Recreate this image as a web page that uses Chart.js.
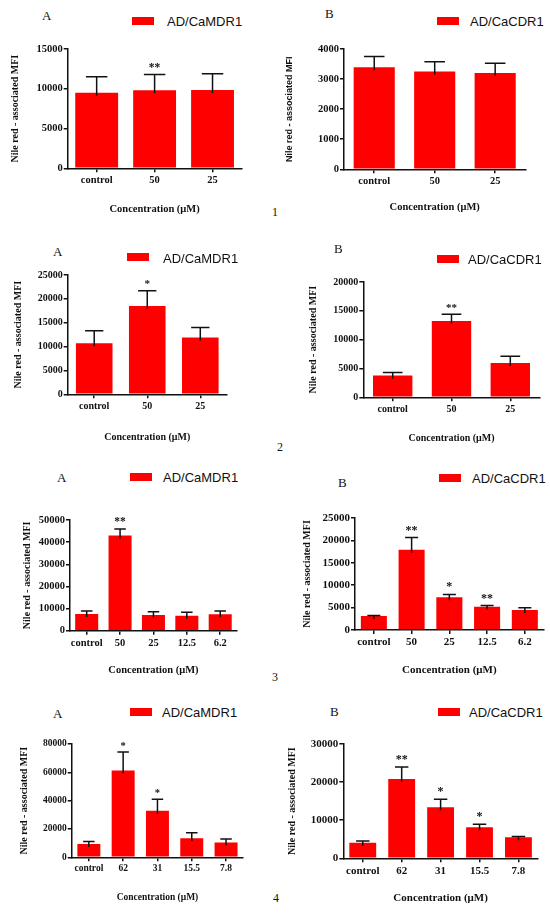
<!DOCTYPE html>
<html>
<head>
<meta charset="utf-8">
<script src="https://cdn.jsdelivr.net/npm/chart.js@4.4.1/dist/chart.umd.min.js"></script>
<style>
  body { margin: 0; background: #fff; width: 550px; height: 921px; position: relative; overflow: hidden; }
  canvas { position: absolute; }
  .let { position: absolute; font-family: "Liberation Serif", serif; font-size: 13px; color: #111; line-height: 1; transform: translateY(-50%); }
  .num { position: absolute; font-family: "Liberation Serif", serif; font-size: 12px; color: #111; line-height: 1; transform: translate(-50%, -50%); }
  .leg { position: absolute; font-family: "Liberation Sans", sans-serif; font-size: 13px; color: #111; line-height: 1; transform: translateY(-50%); white-space: nowrap; }
  .box { position: absolute; background: #ff0000; }
</style>
</head>
<body>
<script>
// categories (concentration, µM)
const conc1 = ["control", "50", "25"];
const conc3 = ["control", "50", "25", "12.5", "6.2"];
const conc4 = ["control", "62", "31", "15.5", "7.8"];

// 1
const mdr1Mean = [9500, 9800, 9850];
const mdr1Sd = [2000, 2000, 2050];
const mdr1Stars = ["", "**", ""];
const cdr1Mean = [3390, 3250, 3200];
const cdr1Sd = [360, 330, 330];
const cdr1Stars = ["", "", ""];

// 2
const mdr2Mean = [10700, 18500, 11900];
const mdr2Sd = [2600, 3200, 2100];
const mdr2Stars = ["", "*", ""];
const cdr2Mean = [3800, 13250, 5950];
const cdr2Sd = [500, 1150, 1150];
const cdr2Stars = ["", "**", ""];

// 3
const mdr3Mean = [7500, 43000, 7100, 6800, 7400];
const mdr3Sd = [1400, 2900, 1500, 1500, 1500];
const mdr3Stars = ["", "**", "", "", ""];
const cdr3Mean = [3100, 17900, 7300, 5200, 4450];
const cdr3Sd = [150, 2750, 650, 250, 500];
const cdr3Stars = ["", "**", "*", "**", ""];

// 4
const mdr4Mean = [9400, 61300, 32800, 13400, 10400];
const mdr4Sd = [1700, 13000, 8200, 4000, 2600];
const mdr4Stars = ["", "*", "*", "", ""];
const cdr4Mean = [4100, 20800, 13400, 8150, 5500];
const cdr4Sd = [450, 3150, 2100, 800, 200];
const cdr4Stars = ["", "**", "*", "*", ""];

const panels = [
  { cats: conc1, mean: mdr1Mean, sd: mdr1Sd, stars: mdr1Stars, name: "AD/CaMDR1", letter: "A",
    max: 15000, step: 5000, ax: 67.7, top: 49.3, right: 241.5, zero: 168.3, titleX: 15, xTitleY: 209, pct: 0.74, fs: 10.5,
    let: [42, 15], box: [132, 17], legX: 167, legY: 21 },
  { cats: conc1, mean: cdr1Mean, sd: cdr1Sd, stars: cdr1Stars, name: "AD/CaCDR1", letter: "B",
    max: 4000, step: 1000, ax: 344, top: 49.3, right: 525.4, zero: 169.3, titleX: 290, xTitleY: 207, pct: 0.68, fs: 10.5, ySans: true,
    let: [325, 13], box: [437, 17], legX: 470, legY: 21 },
  { cats: conc1, mean: mdr2Mean, sd: mdr2Sd, stars: mdr2Stars, name: "AD/CaMDR1", letter: "A",
    max: 25000, step: 5000, ax: 67.7, top: 275, right: 226.8, zero: 394.3, titleX: 18, xTitleY: 436, pct: 0.69, fs: 10,
    let: [53, 251], box: [127, 253], legX: 163, legY: 258 },
  { cats: conc1, mean: cdr2Mean, sd: cdr2Sd, stars: cdr2Stars, name: "AD/CaCDR1", letter: "B",
    max: 20000, step: 5000, ax: 363.3, top: 282.3, right: 539.7, zero: 397.3, titleX: 313, xTitleY: 437, pct: 0.67, fs: 10,
    let: [334, 248], box: [437, 255], legX: 468, legY: 259 },
  { cats: conc3, mean: mdr3Mean, sd: mdr3Sd, stars: mdr3Stars, name: "AD/CaMDR1", letter: "A",
    max: 50000, step: 10000, ax: 70, top: 520, right: 236.9, zero: 630.7, titleX: 27, xTitleY: 670, pct: 0.69, fs: 10.5,
    let: [57, 477], box: [130, 473], legX: 163, legY: 477 },
  { cats: conc3, mean: cdr3Mean, sd: cdr3Sd, stars: cdr3Stars, name: "AD/CaCDR1", letter: "B",
    max: 25000, step: 5000, ax: 355, top: 518.3, right: 543.7, zero: 630, titleX: 307, xTitleY: 670, pct: 0.69, fs: 11,
    let: [338, 482], box: [439, 474], legX: 472, legY: 478 },
  { cats: conc4, mean: mdr4Mean, sd: mdr4Sd, stars: mdr4Stars, name: "AD/CaMDR1", letter: "A",
    max: 80000, step: 20000, ax: 71.7, top: 744.3, right: 243.2, zero: 857.3, titleX: 24, xTitleY: 896, pct: 0.67, fs: 9.5,
    let: [53, 713], box: [130, 708], legX: 162, legY: 712 },
  { cats: conc4, mean: cdr4Mean, sd: cdr4Sd, stars: cdr4Stars, name: "AD/CaCDR1", letter: "B",
    max: 30000, step: 10000, ax: 343.3, top: 744.3, right: 537.9, zero: 858.3, titleX: 292, xTitleY: 898, pct: 0.69, fs: 11,
    let: [330, 711], box: [438, 708], legX: 469, legY: 712 }
];

const figNums = [["1", 275, 212], ["2", 280, 447], ["3", 275, 677], ["4", 276, 898]];

const serif = '"Liberation Serif", serif';

// error bars (upper only) and significance marks
const errorBars = {
  id: 'errorBars',
  afterDatasetsDraw(chart, args, opts) {
    const ctx = chart.ctx;
    const y = chart.scales.y;
    const meta = chart.getDatasetMeta(0);
    ctx.save();
    ctx.strokeStyle = '#111';
    ctx.lineWidth = 1.5;
    meta.data.forEach((bar, i) => {
      const yTop = y.getPixelForValue(opts.mean[i] + opts.sd[i]);
      const half = bar.width / 4;
      ctx.beginPath();
      ctx.moveTo(bar.x, bar.y + 3);
      ctx.lineTo(bar.x, yTop);
      ctx.moveTo(bar.x - half, yTop);
      ctx.lineTo(bar.x + half, yTop);
      ctx.stroke();
      if (opts.stars[i]) {
        ctx.fillStyle = '#111';
        ctx.font = 'bold ' + (opts.fs + 1) + 'px ' + serif;
        ctx.textAlign = 'center';
        ctx.textBaseline = 'bottom';
        ctx.fillText(opts.stars[i], bar.x, yTop - 1);
      }
    });
    ctx.restore();
  }
};

const padT = 14, padR = 6;

panels.forEach(p => {
  const lh = 12;
  const yW = p.ax - p.titleX + lh / 2;
  const xH = p.xTitleY - p.zero + 7;
  const left = p.ax - yW;
  const w = Math.round(p.right + padR - left);
  const h = Math.round(p.zero - p.top + padT + xH);

  const cv = document.createElement('canvas');
  cv.width = w; cv.height = h;
  cv.style.left = left + 'px';
  cv.style.top = (p.top - padT) + 'px';
  cv.style.width = w + 'px';
  cv.style.height = h + 'px';
  document.body.appendChild(cv);

  new Chart(cv, {
    type: 'bar',
    data: {
      labels: p.cats,
      datasets: [{
        data: p.mean,
        backgroundColor: '#ff0000',
        borderWidth: 0,
        categoryPercentage: 1,
        barPercentage: p.pct
      }]
    },
    options: {
      responsive: false,
      animation: false,
      layout: { padding: { top: padT, right: w - (p.right - left), left: 0, bottom: 0 } },
      plugins: {
        legend: { display: false },
        tooltip: { enabled: false },
        errorBars: { mean: p.mean, sd: p.sd, stars: p.stars, fs: p.fs }
      },
      scales: {
        x: {
          grid: { display: true, drawOnChartArea: false, drawTicks: true, tickLength: 4, color: '#111', lineWidth: 1.5, offset: false },
          border: { display: true, color: '#111', width: 1.5 },
          ticks: { color: '#111', font: { family: serif, size: p.fs, weight: 'bold' }, padding: 2, maxRotation: 0, autoSkip: false },
          title: { display: true, text: 'Concentration (μM)', color: '#111', font: { family: serif, size: p.fs, weight: 'bold' }, padding: 0, align: 'center' },
          afterFit: s => { s.height = xH; }
        },
        y: {
          min: 0, max: p.max,
          grid: { display: true, drawOnChartArea: false, drawTicks: true, tickLength: 4, color: '#111', lineWidth: 1.5 },
          border: { display: true, color: '#111', width: 1.5 },
          ticks: { stepSize: p.step, color: '#111', font: { family: serif, size: p.fs, weight: 'bold' }, padding: 1,
                   callback: v => String(v) },
          title: { display: true, text: 'Nile red - associated MFI', color: '#111',
                   font: { family: p.ySans ? '"Liberation Sans", sans-serif' : serif, size: p.ySans ? 9 : 10, weight: 'bold', lineHeight: 1.2 }, padding: 0 },
          afterFit: s => { s.width = yW; }
        }
      }
    },
    plugins: [errorBars]
  });

  const l = document.createElement('div');
  l.className = 'let';
  l.textContent = p.letter;
  l.style.left = p.let[0] + 'px';
  l.style.top = p.let[1] + 'px';
  document.body.appendChild(l);

  const b = document.createElement('div');
  b.className = 'box';
  b.style.left = p.box[0] + 'px';
  b.style.top = p.box[1] + 'px';
  b.style.width = '22px';
  b.style.height = '8px';
  document.body.appendChild(b);

  const t = document.createElement('div');
  t.className = 'leg';
  t.textContent = p.name;
  t.style.left = p.legX + 'px';
  t.style.top = p.legY + 'px';
  document.body.appendChild(t);
});

figNums.forEach(([s, x, y]) => {
  const d = document.createElement('div');
  d.className = 'num';
  d.textContent = s;
  d.style.left = x + 'px';
  d.style.top = y + 'px';
  document.body.appendChild(d);
});
</script>
</body>
</html>
